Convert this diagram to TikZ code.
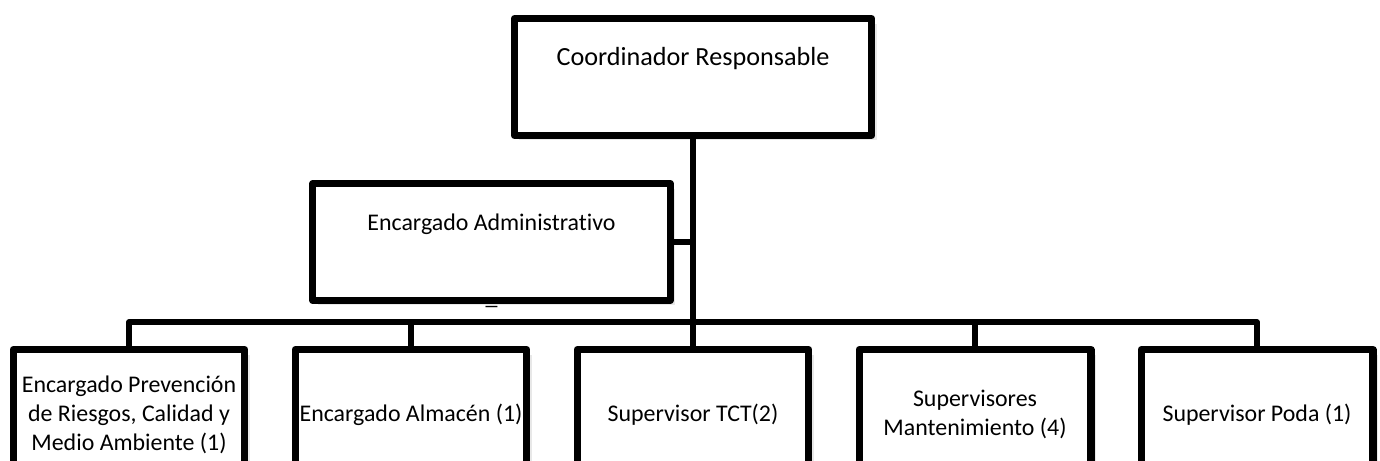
\documentclass[tikz,border=0pt]{standalone}
\usepackage{fontspec}
\setmainfont{Carlito}[Ligatures=NoCommon]
\usetikzlibrary{positioning, shadows}

\begin{document}
\begin{tikzpicture}[x=0.02cm,y=-0.02cm,
	box/.style={draw,line width=4pt,line join=round,fill=white,inner sep=0pt,drop shadow={opacity=0.18,shadow xshift=0.1cm,shadow yshift=-0.1cm}},
	headbox/.style={box,minimum width=7.15cm,text height=0.93cm,text depth=1.41cm,anchor=north},
	staffbox/.style={box,minimum width=4.64cm,minimum height=2.6cm,align=center,anchor=north,font=\fontsize{13.6}{16.5}\selectfont},
	link/.style={line width=3pt,line join=round}]
	\useasboundingbox (0,0) rectangle (1380,460);
	\clip (0,0) rectangle (1380,460);

	\node (coord) at (693,15) [headbox,font=\fontsize{14.9}{18}\selectfont] {Coordinador Responsable};
	\node (admin) at (491.5,180) [headbox,font=\fontsize{13.6}{16.5}\selectfont] {Encargado Administrativo};
	\node (dash) at (491.5,304.5) [anchor=base,font=\fontsize{13.6}{16.5}\selectfont] {\_};

	\node (prev) at (129,346) [staffbox] {Encargado Prevención\\de Riesgos, Calidad y\\Medio Ambiente (1)};
	\node (store) at (411,346) [staffbox] {Encargado Almacén (1)};
	\node (tct) at (693,346) [staffbox] {Supervisor TCT(2)};
	\node (maint) at (975,346) [staffbox] {Supervisores\\Mantenimiento (4)};
	\node (prune) at (1257,346) [staffbox] {Supervisor Poda (1)};

	\coordinate (bus) at (693,322);
	\draw[link] (coord.south) -- (tct.north);
	\draw[link] (admin.east) -- (admin.east -| coord.south);
	\draw[link] (prev.north) |- (bus) -| (prune.north);
	\draw[link] (store.north) -- (store.north |- bus);
	\draw[link] (maint.north) -- (maint.north |- bus);
\end{tikzpicture}
\end{document}
